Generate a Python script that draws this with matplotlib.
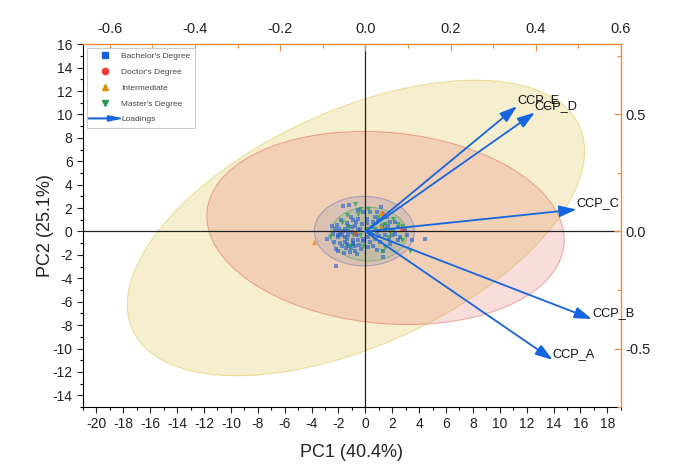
import numpy as np
import matplotlib
matplotlib.use("Agg")
import matplotlib.pyplot as plt
import matplotlib.patches as mpatches
from matplotlib.legend_handler import HandlerPatch
from matplotlib.lines import Line2D
from matplotlib.ticker import MultipleLocator, FormatStrFormatter

plt.rcParams['font.family'] = ['Liberation Sans', 'DejaVu Sans']
plt.rcParams['axes.unicode_minus'] = False

# PC scores per group (PC1, PC2)
bachelor_x = [-1.69, -1.19, 1.19, -0.57, -2.26, -1.94, -2.88, -2.21, -2.01, -2.19, -1.09, -0.77,
              -0.77, -0.52, -1.52, -1.76, -2.01, -1.27, -1.02, -0.89, -0.52, -0.27, -0.15, 0.35,
              0.72, 0.84, 0.60, 0.97, 1.59, 1.84, 2.21, 1.47, 1.96, 2.46, 3.08, 3.50, 4.45, 1.29,
              1.34, 0.22, 0.35, -0.15, 0.72, 1.09, 1.84, 2.21, -0.77, -1.52, -1.39, -1.76, -0.89,
              -1.27, -0.52, 0.47, 1.22, 0.10, 0.42, 0.84, 1.47, 2.96, 2.46, -1.50, -1.20, -0.60,
              -2.30, -1.90, -0.30, -1.00, -2.50, -1.60, -0.90, -1.30, 0.20, -0.40,
              -1.85, -1.35, -0.95, -0.45, -2.05, -1.65, -1.15, -0.65, -2.40, -1.45, 0.55, 1.00,
              1.65, 2.05, 0.15, -0.70, -1.05, -1.80, 2.60, 0.90, -0.20, -1.40, -2.10, 1.75]
bachelor_y = [2.14, 2.22, 2.05, 1.80, 0.23, 0.17, -0.63, -1.48, -1.71, -2.97, -1.43, -1.63,
              -1.25, -0.77, -0.91, -0.34, -0.34, -0.34, -0.06, 0.94, 1.08, 0.66, 1.65, 1.65,
              1.23, 1.65, 0.80, 0.94, 1.23, 0.80, 0.80, 0.23, -0.34, -0.77, -0.34, -0.71, -0.68, -2.14,
              -1.71, -1.34, -0.91, -0.63, -0.63, -0.91, -1.06, -0.20, 0.51, 0.23, -1.06, -1.20, -0.77,
              0.51, 0.09, 0.37, 0.51, 1.08, -0.06, -0.06, -0.34, 0.09, 0.37, -0.50, -1.20, -0.30,
              -0.90, -1.00, -1.50, 0.40, 0.50, -1.80, -1.00, 0.00, -0.50, 0.20,
              -0.15, -0.60, -1.10, -1.15, -0.45, 0.05, -1.75, -1.95, -0.20, -1.40, -1.25, -0.40,
              0.45, 0.15, 0.70, 0.80, 1.20, 0.95, -0.50, -1.55, -0.85, 0.70, 0.55, -0.65]

doctor_x = [1.22, 2.71, -0.77]
doctor_y = [1.60, 0.23, -0.11]

intermediate_x = [-3.85, 1.20, 1.15]
intermediate_y = [-0.86, 1.60, 0.46]

master_x = [-0.77, -0.40, 0.22, -1.39, -1.76, -2.63, -1.27, -0.52, 1.34, 1.47, 2.09, 2.46, 2.71,
            1.84, 1.71, 2.71, 1.47, 1.27, 3.33, -0.15, -1.14, -0.40, 0.47, 0.72, 0.10, 0.97, -0.89]
master_y = [2.31, 1.88, 1.94, 1.37, 0.80, -0.48, 0.37, 1.51, 0.57, 0.66, 1.08, 0.66, 0.51,
            -0.06, -0.48, -0.77, -1.34, -1.71, -1.71, -1.20, -1.20, -0.34, -0.34, 0.23, 0.23, 1.23, -0.34]

# confidence ellipses: center x, center y, width, height, angle
ellipse_groups = ["Intermediate", "Doctor's Degree", "Bachelor's Degree", "Master's Degree"]
ellipse_cx = [-0.7, 1.5, -0.08, 0.25]
ellipse_cy = [0.3, 0.3, 0.03, -0.23]
ellipse_w = [37.6, 26.7, 7.44, 5.7]
ellipse_h = [19.5, 16.3, 5.94, 4.6]
ellipse_ang = [29.9, -7.0, 0.0, 0.0]

# loadings
var_names = ['CCP_A', 'CCP_B', 'CCP_C', 'CCP_D', 'CCP_E']
load_pc1 = [0.440, 0.532, 0.496, 0.398, 0.356]
load_pc2 = [-0.548, -0.374, 0.094, 0.508, 0.535]

colors = {"Bachelor's Degree": '#1b5fd6', "Doctor's Degree": '#f03a3a',
          "Intermediate": '#d8920c', "Master's Degree": '#1ea04e'}
ell_face = {"Intermediate": ('#dcc040', 0.25), "Doctor's Degree": ('#e0584e', 0.2),
            "Bachelor's Degree": ('#5a6ab0', 0.14), "Master's Degree": ('#3aa050', 0.14)}
arrow_color = '#1565e0'
orange = '#f58a3c'

fig = plt.figure(figsize=(6.8, 4.75), dpi=100)
rect = [0.122, 0.143, 0.791, 0.764]
ax = fig.add_axes(rect)

for g, cx, cy, w, h, a in zip(ellipse_groups, ellipse_cx, ellipse_cy, ellipse_w, ellipse_h, ellipse_ang):
    fc, fa = ell_face[g]
    e = mpatches.Ellipse((cx, cy), w, h, angle=a, facecolor=matplotlib.colors.to_rgba(fc, fa),
                         edgecolor=matplotlib.colors.to_rgba(fc, 0.45), lw=0.8, zorder=1)
    ax.add_patch(e)

ax.scatter(bachelor_x, bachelor_y, marker='s', s=12, color=colors["Bachelor's Degree"], alpha=0.6, lw=0, zorder=3)
ax.scatter(master_x, master_y, marker='v', s=14, color=colors["Master's Degree"], alpha=0.7, lw=0, zorder=3)
ax.scatter(doctor_x, doctor_y, marker='o', s=12, color=colors["Doctor's Degree"], alpha=0.7, lw=0, zorder=3)
ax.scatter(intermediate_x, intermediate_y, marker='^', s=14, color=colors["Intermediate"], alpha=0.8, lw=0, zorder=3)

ax.axhline(0, color='#222222', lw=0.9, zorder=3.5)
ax.axvline(0, color='#222222', lw=0.9, zorder=3.5)

ax.set_xlim(-21, 19)
ax.set_ylim(-15, 16)
ax.xaxis.set_minor_locator(MultipleLocator(1))
ax.yaxis.set_minor_locator(MultipleLocator(1))
ax.set_xticks(np.arange(-20, 19, 2))
ax.set_yticks(np.arange(-14, 17, 2))
ax.tick_params(which='major', direction='out', length=4, width=0.8, labelsize=10, colors='#222222')
ax.tick_params(which='minor', direction='out', length=2.5, width=0.8)
ax.spines['top'].set_visible(False)
ax.spines['right'].set_visible(False)
ax.set_xlabel('PC1 (40.4%)', fontsize=13, color='#222222', labelpad=9)
ax.set_ylabel('PC2 (25.1%)', fontsize=13, color='#222222', labelpad=-1)

# loadings axes (top / right)
axl = fig.add_axes(rect, facecolor='none')
axl.set_xlim(-21 * 0.6 / 19, 0.6)
axl.set_ylim(-0.75, 0.8)
axl.xaxis.tick_top()
axl.yaxis.tick_right()
axl.xaxis.set_major_locator(MultipleLocator(0.2))
axl.xaxis.set_minor_locator(MultipleLocator(0.1))
axl.yaxis.set_major_locator(MultipleLocator(0.5))
axl.yaxis.set_minor_locator(MultipleLocator(0.25))
axl.xaxis.set_major_formatter(FormatStrFormatter('%.1f'))
axl.yaxis.set_major_formatter(FormatStrFormatter('%.1f'))
for s in ['left', 'bottom']:
    axl.spines[s].set_visible(False)
for s in ['top', 'right']:
    axl.spines[s].set_color(orange)
    axl.spines[s].set_linewidth(1.0)
axl.tick_params(which='major', direction='in', length=5, width=0.8, color=orange,
                labelsize=10.5, labelcolor='#222222')
axl.tick_params(which='minor', direction='in', length=3, width=0.8, color=orange)
axl.tick_params(axis='x', pad=6)

for name, lx, ly in zip(var_names, load_pc1, load_pc2):
    axl.annotate('', xy=(lx, ly), xytext=(0, 0),
                 arrowprops=dict(arrowstyle='-|>,head_length=0.75,head_width=0.25',
                                 color=arrow_color, lw=1.3, mutation_scale=14,
                                 shrinkA=0, shrinkB=0), zorder=5)
    axl.text(lx, ly, name, ha='left', va='bottom', fontsize=9.2, color='#111111', zorder=6)


def make_legend_arrow(legend, orig_handle, xdescent, ydescent, width, height, fontsize):
    return mpatches.FancyArrow(-xdescent - 2, 0.5 * height, width + 4, 0, length_includes_head=True,
                               head_width=0.9 * height, head_length=0.5 * width, width=0.12 * height)


arrow_proxy = mpatches.FancyArrow(0, 0, 1, 0, color=arrow_color)
handles = [Line2D([], [], ls='', marker='s', ms=4, color=colors["Bachelor's Degree"]),
           Line2D([], [], ls='', marker='o', ms=4.5, color=colors["Doctor's Degree"]),
           Line2D([], [], ls='', marker='^', ms=4.5, color=colors["Intermediate"]),
           Line2D([], [], ls='', marker='v', ms=4.5, color=colors["Master's Degree"]),
           arrow_proxy]
labels = ["Bachelor's Degree", "Doctor's Degree", "Intermediate", "Master's Degree", "Loadings"]
leg = axl.legend(handles, labels, loc='upper left', fontsize=6, frameon=True, fancybox=False,
                 edgecolor='#cccccc', framealpha=1, borderaxespad=0.5, handlelength=3.2,
                 handletextpad=0.4, labelspacing=0.95, borderpad=0.5,
                 handler_map={arrow_proxy: HandlerPatch(patch_func=make_legend_arrow)})
leg.get_frame().set_linewidth(0.8)
for t in leg.get_texts():
    t.set_color('#444444')
leg.set_zorder(10)

fig.savefig('out.png', dpi=100)
